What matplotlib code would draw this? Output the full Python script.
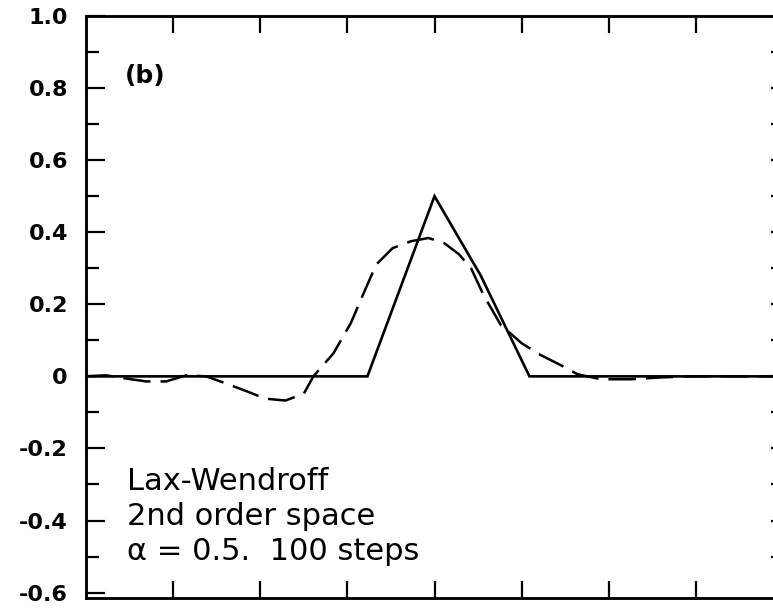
import matplotlib
matplotlib.use("Agg")
import matplotlib.pyplot as plt
import numpy as np

# Solución exacta (línea continua)
x_exacta = [0.0, 3.23, 4.0, 4.53, 5.09, 8.0]
u_exacta = [0.0, 0.0, 0.5, 0.28, 0.0, 0.0]

# Lax-Wendroff (línea discontinua)
x_lw = [0.0, 0.23, 0.46, 0.69, 0.92, 1.15, 1.38, 1.61, 1.83, 2.06, 2.29, 2.50,
        2.61, 2.84, 3.04, 3.18, 3.33, 3.52, 3.73, 3.93, 4.11, 4.28, 4.42, 4.56,
        4.76, 5.0, 5.22, 5.45, 5.64, 5.91, 6.25, 6.59, 6.94, 8.0]
u_lw = [0.0, 0.003, -0.006, -0.014, -0.014, 0.003, 0.0, -0.02, -0.04, -0.062,
        -0.067, -0.048, 0.0, 0.064, 0.148, 0.227, 0.31, 0.356, 0.375, 0.384,
        0.37, 0.339, 0.30, 0.227, 0.143, 0.092, 0.059, 0.031, 0.006, -0.008,
        -0.008, -0.003, 0.0, 0.0]

y_ticks = [-0.6, -0.4, -0.2, 0, 0.2, 0.4, 0.6, 0.8, 1.0]
y_labels = ["-0.6", "-0.4", "-0.2", "0", "0.2", "0.4", "0.6", "0.8", "1.0"]

plt.rcParams['font.family'] = ['DejaVu Sans']

fig = plt.figure(figsize=(7.73, 6.10), dpi=100)
ax = fig.add_axes([86 / 773, 12 / 610, 697 / 773, 582 / 610])

ax.plot(x_exacta, u_exacta, color='black', lw=1.9, solid_joinstyle='miter')
linea, = ax.plot(x_lw, u_lw, color='black', lw=1.8)
linea.set_dashes((11, 4))

ax.set_xlim(0, 8)
ax.set_ylim(-0.615, 1.0)

ax.set_xticks(np.arange(1, 8))
ax.set_xticklabels([])
ax.set_yticks(y_ticks)
ax.set_yticklabels(y_labels, fontsize=16, fontweight='bold')
ax.set_yticks(np.arange(-0.5, 1.0, 0.2), minor=True)

ax.tick_params(axis='x', which='major', direction='in', length=12, width=1.6,
               top=True, bottom=True)
ax.tick_params(axis='y', which='major', direction='in', length=14, width=1.6,
               left=True, right=False, pad=13)
ax.tick_params(axis='y', which='minor', direction='in', length=9, width=1.6,
               left=True, right=False)

# ticks del lado derecho
ax2 = ax.twinx()
ax2.set_ylim(ax.get_ylim())
ax2.set_yticks(np.arange(-0.5, 1.0, 0.1))
ax2.set_yticklabels([])
ax2.tick_params(axis='y', direction='in', length=9, width=1.6)

for a in (ax, ax2):
    for s in a.spines.values():
        s.set_linewidth(1.8)

ax.text(0.45, 0.815, "(b)", fontsize=18, fontweight='bold', va='baseline')
ax.text(0.47, -0.315, "Lax-Wendroff", fontsize=22, va='baseline')
ax.text(0.47, -0.412, "2nd order space", fontsize=22, va='baseline')
ax.text(0.47, -0.509, "α = 0.5.  100 steps", fontsize=22, va='baseline')

fig.savefig("out.png", dpi=100)
